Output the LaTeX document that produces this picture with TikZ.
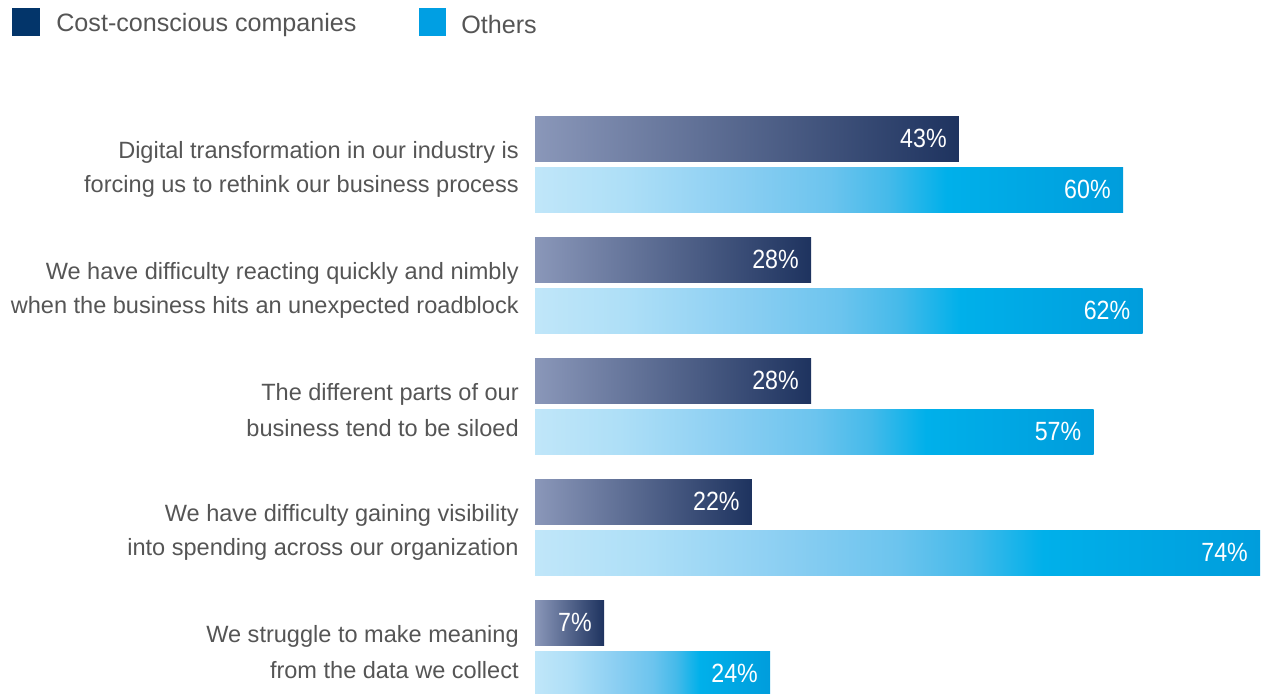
\documentclass[tikz,border=0pt]{standalone}
\usepackage{fontspec}
\setmainfont{Liberation Sans}
\newfontfamily\pctfont[FakeStretch=0.88]{Liberation Sans}
\definecolor{txt}{HTML}{555555}
\definecolor{dkA}{HTML}{8A97B9}
\definecolor{dkB}{HTML}{1E335F}
\definecolor{lb0}{HTML}{C0E6F9}
\definecolor{lb1}{HTML}{AEDFF7}
\definecolor{lb2}{HTML}{8ACEF2}
\definecolor{lb3}{HTML}{6CC4EE}
\definecolor{lb4}{HTML}{45BAEA}
\definecolor{lb5}{HTML}{00B0EA}
\definecolor{lb6}{HTML}{009DDC}
\definecolor{legdark}{HTML}{03356A}
\definecolor{legcyan}{HTML}{009FE3}
\pgfdeclarehorizontalshading{lightbar}{100bp}{color(0bp)=(lb0); color(25bp)=(lb0); color(32.5bp)=(lb1); color(42.5bp)=(lb2); color(50bp)=(lb3); color(55bp)=(lb4); color(60bp)=(lb5); color(75bp)=(lb6); color(100bp)=(lb6)}
\tikzset{
  darkbar/.style={left color=dkA, right color=dkB, draw=none},
  lightbar/.style={shading=lightbar, draw=none},
  pct/.style={anchor=east, text=white, font=\pctfont\fontsize{15}{15}\selectfont, inner sep=0pt},
  lab/.style={anchor=east, text=txt, font=\fontsize{13.4}{19.3}\selectfont, inner sep=0pt},
  leg/.style={anchor=west, text=txt, font=\fontsize{14.3}{16}\selectfont, inner sep=0pt},
}
\begin{document}
\begin{tikzpicture}[x=0.02cm, y=-0.02cm]
\useasboundingbox (0,0) rectangle (1274,693);
\clip (0,0) rectangle (1274,693);
% legend
\fill[legdark] (12,8) rectangle (40,36);
\node[leg] (l1) at (56,25) {Cost-conscious companies};
\fill[legcyan] (419,8) rectangle (446,36);
\node[leg] (l2) at (461,25) {Others};
% bars: about 9.8 px per percent, start at 535
\foreach \i/\a/\b/\la/\lb in {
  0/43/60/{Digital transformation in our industry is}/{forcing us to rethink our business process},
  1/28/62/{We have difficulty reacting quickly and nimbly}/{when the business hits an unexpected roadblock},
  2/28/57/{The different parts of our}/{business tend to be siloed},
  3/22/74/{We have difficulty gaining visibility}/{into spending across our organization},
  4/7/24/{We struggle to make meaning}/{from the data we collect}}{
  \pgfmathsetmacro{\ya}{116+121*\i}
  \pgfmathsetmacro{\yb}{167+121*\i}
  \pgfmathsetmacro{\xa}{535+9.86*\a}
  \pgfmathsetmacro{\xb}{535+9.8*\b}
  \shade[darkbar] (535,\ya) rectangle (\xa,\ya+45);
  \shade[lightbar] (535,\yb) rectangle (\xb,\yb+45);
  \node[pct] (pa\i) at (\xa-12,\ya+22.5) {\a\%};
  \node[pct] (pb\i) at (\xb-12,\yb+22.5) {\b\%};
  \node[lab] (la\i) at (519,\ya+36) {\la};
  \node[lab] (lb\i) at (519,\ya+70) {\lb};
}
\end{tikzpicture}
\end{document}
